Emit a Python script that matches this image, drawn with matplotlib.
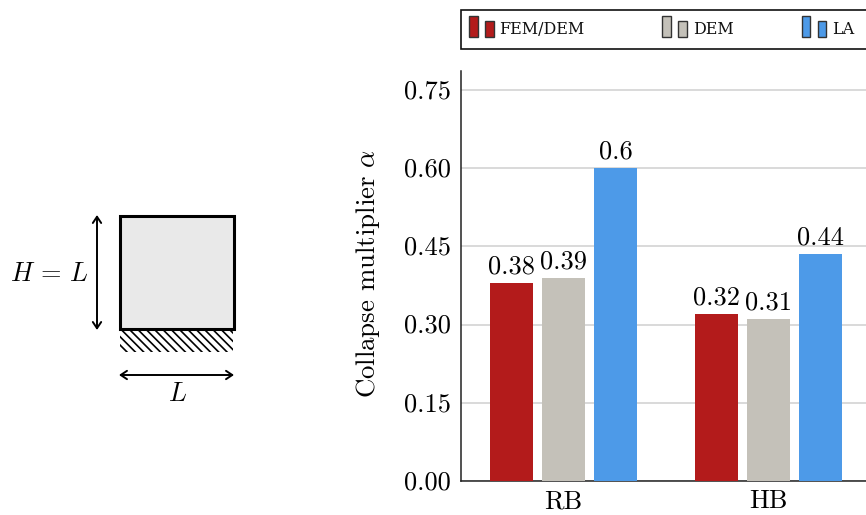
#Collapse multiplier bars with the block sketch beside them
import matplotlib
matplotlib.use("Agg")
import matplotlib.pyplot as plt
from matplotlib.patches import Rectangle
from matplotlib.transforms import ScaledTranslation
import numpy as np

Groups = ["RB", "HB"]
Methods = ["FEM/DEM", "DEM", "LA"]
FemDem = [0.38, 0.32]
Dem = [0.39, 0.31]
La = [0.60, 0.435]
FemDemLabels = ["0.38", "0.32"]
DemLabels = ["0.39", "0.31"]
LaLabels = ["0.6", "0.44"]
YTicks = [0.00, 0.15, 0.30, 0.45, 0.60, 0.75]

Colours = ["#b31b1b", "#c4c1b9", "#4d9ae8"]
FontSize = 19
W, H = 866, 515

plt.rcParams['font.family'] = ['cmr10', 'DejaVu Serif']
plt.rcParams['mathtext.fontset'] = 'cm'
plt.rcParams['axes.unicode_minus'] = False
plt.rcParams['hatch.linewidth'] = 1.2

Fig = plt.figure(figsize=(W / 100, H / 100), dpi=100)

#---Bar chart---
Ax = Fig.add_axes([461 / W, 1 - 481 / H, (W - 461) / W, 410 / H])
X = np.arange(len(Groups))
Step = 0.2533
BarWidth = 0.2094
for i, (Vals, Labs) in enumerate(zip([FemDem, Dem, La], [FemDemLabels, DemLabels, LaLabels])):
    Bars = Ax.bar(X + (i - 1) * Step, Vals, BarWidth, color=Colours[i], zorder=3)
    Ax.bar_label(Bars, labels=Labs, padding=3.2, fontsize=FontSize, zorder=4)

Ax.set_xlim(-0.499, 1.473)
Ax.set_ylim(0, 0.786)
Ax.set_xticks(X, Groups)
Ax.set_yticks(YTicks, ["%.2f" % v for v in YTicks])
Ax.tick_params(length=0, labelsize=FontSize, pad=7.2)
Ax.tick_params(axis='x', pad=6)
Shift = ScaledTranslation(0, -1.5 / 100, Fig.dpi_scale_trans)
for Lab in Ax.get_yticklabels():
    Lab.set_verticalalignment("center")
    Lab.set_transform(Lab.get_transform() + Shift)
Ax.grid(axis='y', color="#d0d0d0", lw=1.1, zorder=0)
Ax.set_axisbelow(True)
for Side in ["top", "right"]:
    Ax.spines[Side].set_visible(False)
for Side in ["left", "bottom"]:
    Ax.spines[Side].set_linewidth(1.1)
    Ax.spines[Side].set_color("#222222")
Ax.set_ylabel(r"Collapse multiplier $\alpha$", fontsize=19.3, labelpad=16, y=0.505)

#---Overlay in pixel coordinates for sketch and legend---
Ov = Fig.add_axes([0, 0, 1, 1], facecolor="none")
Ov.set_xlim(0, W)
Ov.set_ylim(H, 0)
Ov.axis("off")

#Legend box runs off the right edge
Ov.add_patch(Rectangle((461, 10), 420, 39, fc="white", ec="#111111", lw=1.2))
LegendX = [469, 662, 801.5]
TextX = [499, 693, 832]
for i in range(3):
    Ov.add_patch(Rectangle((LegendX[i], 15.5), 8.5, 21.5, fc=Colours[i], ec="#333333", lw=1))
    Ov.add_patch(Rectangle((LegendX[i] + 16, 21), 8.5, 16, fc=Colours[i], ec="#333333", lw=1))
    Ov.text(TextX[i], 30, Methods[i], family="DejaVu Serif", fontsize=11.5, va="center", ha="left", color="#111111")

#Block sketch
Ov.add_patch(Rectangle((120, 330), 113, 22, fc="white", ec="black", lw=0, hatch="\\\\\\\\"))
Ov.add_patch(Rectangle((119.5, 215.5), 114, 113.5, fc="#e9e9e9", ec="black", lw=2.2))
Arrow = dict(arrowstyle="<->,head_length=0.45,head_width=0.3", lw=1.4, color="black", shrinkA=0, shrinkB=0)
Ov.annotate("", xy=(97, 215), xytext=(97, 330), arrowprops=Arrow)
Ov.annotate("", xy=(119, 375), xytext=(234, 375), arrowprops=Arrow)
Ov.text(49, 274, r"$H\,=\,L$", fontsize=FontSize, ha="center", va="center")
Ov.text(177, 394, r"$L$", fontsize=FontSize, ha="center", va="center")

Fig.savefig("out.png", dpi=100)
